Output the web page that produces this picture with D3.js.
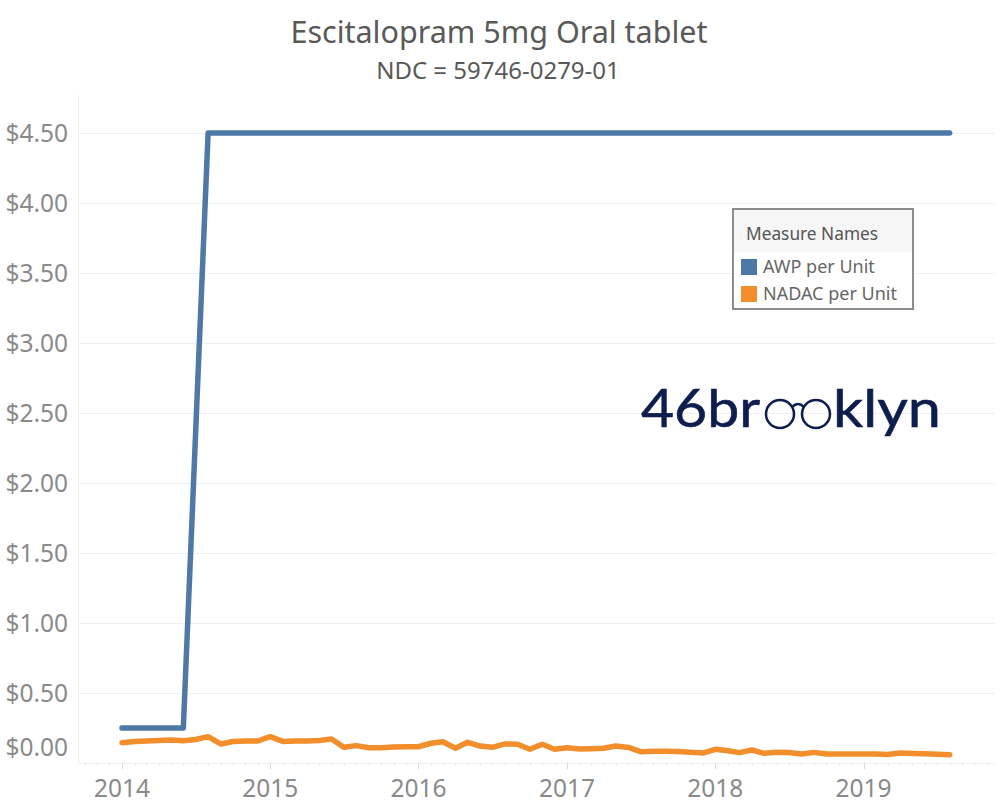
<!DOCTYPE html>
<html><head><meta charset="utf-8">
<script src="https://cdn.jsdelivr.net/npm/d3@7"></script>
<style>body{margin:0;background:#fff;} svg{display:block;font-family:"Noto Sans",sans-serif;}</style>
</head><body><svg id="c" width="1000" height="806"></svg>
<script>
const title = "Escitalopram 5mg Oral tablet";
const subtitle = "NDC = 59746-0279-01";
const months = [
 "2014-01","2014-02","2014-03","2014-04","2014-05","2014-06","2014-07","2014-08","2014-09","2014-10","2014-11","2014-12",
 "2015-01","2015-02","2015-03","2015-04","2015-05","2015-06","2015-07","2015-08","2015-09","2015-10","2015-11","2015-12",
 "2016-01","2016-02","2016-03","2016-04","2016-05","2016-06","2016-07","2016-08","2016-09","2016-10","2016-11","2016-12",
 "2017-01","2017-02","2017-03","2017-04","2017-05","2017-06","2017-07","2017-08","2017-09","2017-10","2017-11","2017-12",
 "2018-01","2018-02","2018-03","2018-04","2018-05","2018-06","2018-07","2018-08","2018-09","2018-10","2018-11","2018-12",
 "2019-01","2019-02","2019-03","2019-04","2019-05","2019-06","2019-07","2019-08"];
const nadacValues = [
 0.145,0.154,0.157,0.161,0.164,0.159,0.168,0.188,0.136,0.154,0.157,0.157,
 0.188,0.154,0.157,0.157,0.161,0.171,0.112,0.124,0.109,0.109,0.114,0.116,
 0.116,0.141,0.152,0.105,0.148,0.121,0.112,0.136,0.134,0.098,0.134,0.098,
 0.109,0.100,0.102,0.105,0.121,0.111,0.081,0.084,0.084,0.082,0.076,0.071,
 0.098,0.088,0.074,0.093,0.069,0.076,0.075,0.064,0.076,0.064,0.064,0.064,
 0.064,0.064,0.061,0.071,0.068,0.066,0.063,0.059];
const awpMonths = ["2014-01","2014-06","2014-08","2019-08"];
const awpValues = [0.25,0.25,4.50,4.50];
const yTicks = [0,0.5,1,1.5,2,2.5,3,3.5,4,4.5];
const xTickYears = ["2014","2015","2016","2017","2018","2019"];
const seriesNames = ["AWP per Unit","NADAC per Unit"];
const seriesColors = ["#4e79a7","#f28e2b"];
const legendTitle = "Measure Names";

const svg = d3.select("#c");
const parse = d3.timeParse("%Y-%m");
const L = 78, R = 995, T = 95, B = 763;
const x = d3.scaleTime().domain([parse("2014-01"), parse("2019-01")]).range([122, 863.6]);
const y = d3.scaleLinear().domain([0, 4.5]).range([B, 133]);

// title
svg.append("text").attr("x", 499).attr("y", 43).attr("text-anchor","middle")
  .attr("font-size", 30.5).attr("fill","#595959").text(title);
svg.append("text").attr("x", 498).attr("y", 79).attr("text-anchor","middle")
  .attr("font-size", 24).attr("fill","#595959").text(subtitle);

// gridlines
svg.append("g").selectAll("line").data(yTicks.filter(d=>d>0)).join("line")
  .attr("x1", L).attr("x2", R).attr("y1", d=>y(d)+0.5).attr("y2", d=>y(d)+0.5)
  .attr("stroke","#f0f0f0").attr("stroke-width",1);
svg.append("line").attr("x1", L+0.5).attr("x2", L+0.5).attr("y1", T).attr("y2", B)
  .attr("stroke","#eeeeee");
svg.append("line").attr("x1", L).attr("x2", R).attr("y1", B+0.5).attr("y2", B+0.5)
  .attr("stroke","#f0f0f0");

// y labels
svg.append("g").selectAll("text").data(yTicks).join("text")
  .attr("x", 68).attr("y", d => d === 0 ? y(d) - 16 : y(d))
  .attr("dy","0.35em").attr("text-anchor","end").attr("font-size", 24.5)
  .attr("fill","#8a8a8a").text(d => d3.format("$.2f")(d));

// x axis ticks
const tickMonths = d3.timeMonth.range(parse("2013-10"), parse("2019-12"));
svg.append("g").selectAll("line").data(tickMonths).join("line")
  .attr("x1", d=>Math.round(x(d))+0.5).attr("x2", d=>Math.round(x(d))+0.5)
  .attr("y1", B).attr("y2", d => d.getMonth()===0 ? B+6 : B+3)
  .attr("stroke", d => d.getMonth()===0 ? "#d8d8d8" : "#e8e8e8");
svg.append("g").selectAll("text").data(xTickYears).join("text")
  .attr("x", d => x(parse(d+"-01"))).attr("y", 797).attr("text-anchor","middle")
  .attr("font-size", 24.5).attr("fill","#8a8a8a").text(d=>d);

// lines
const line = d3.line().x(d=>x(d.date)).y(d=>y(d.v));
const awpData = awpMonths.map((m,i)=>({date:parse(m), v:awpValues[i]}));
const nadacData = months.map((m,i)=>({date:parse(m), v:nadacValues[i]}));
svg.append("path").datum(awpData).attr("d", line).attr("fill","none")
  .attr("stroke", seriesColors[0]).attr("stroke-width",5.5)
  .attr("stroke-linejoin","round").attr("stroke-linecap","round");
svg.append("path").datum(nadacData).attr("d", line).attr("fill","none")
  .attr("stroke", seriesColors[1]).attr("stroke-width",5.5)
  .attr("stroke-linejoin","round").attr("stroke-linecap","round");

// legend
const lg = svg.append("g");
lg.append("rect").attr("x",733).attr("y",209).attr("width",180).attr("height",100)
  .attr("fill","#fff").attr("stroke","#8c8c8c").attr("stroke-width",2);
lg.append("rect").attr("x",734).attr("y",210).attr("width",178).attr("height",42)
  .attr("fill","#f6f6f6");
lg.append("text").attr("x",746).attr("y",240).attr("font-size",17.3).attr("fill","#555").text(legendTitle);
seriesNames.forEach((n,i)=>{
  const yy = 259 + i*27;
  lg.append("rect").attr("x",741).attr("y",yy).attr("width",16).attr("height",16).attr("fill",seriesColors[i]);
  lg.append("text").attr("x",763).attr("y",yy+14).attr("font-size",18).attr("fill","#666").text(n);
});

// logo
const logo = svg.append("g").attr("fill","#0d1d4d");
logo.append("text").attr("x",641).attr("y",427).attr("font-family","Lato").attr("font-size",52)
  .attr("stroke","#0d1d4d").attr("stroke-width",0.6)
  .attr("textLength",119).attr("lengthAdjust","spacingAndGlyphs").text("46br");
logo.append("text").attr("x",833).attr("y",427).attr("font-family","Lato").attr("font-size",52)
  .attr("stroke","#0d1d4d").attr("stroke-width",0.6)
  .attr("textLength",108).attr("lengthAdjust","spacingAndGlyphs").text("klyn");
[780,816].forEach(cx => logo.append("circle").attr("cx",cx).attr("cy",414).attr("r",14)
  .attr("fill","none").attr("stroke","#0d1d4d").attr("stroke-width",2.5));
logo.append("path").attr("d","M792,407 Q798,401 804,407").attr("fill","none")
  .attr("stroke","#0d1d4d").attr("stroke-width",2.5);
</script></body></html>
